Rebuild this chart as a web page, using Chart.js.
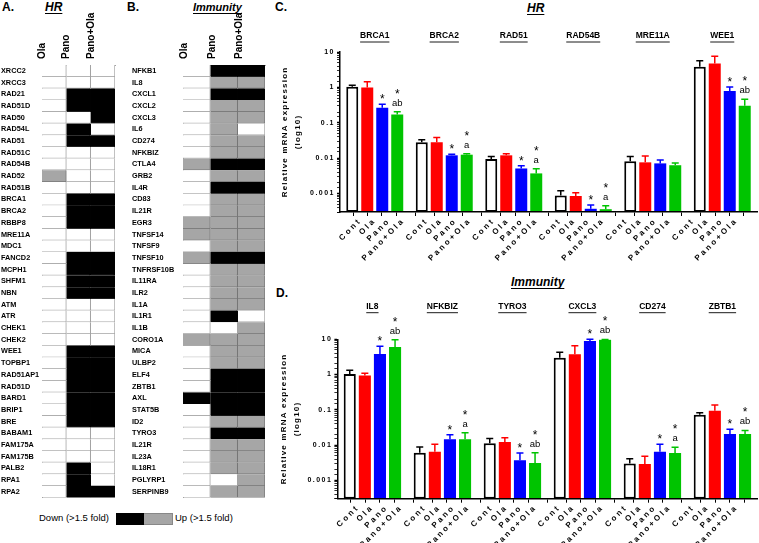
<!DOCTYPE html>
<html><head><meta charset="utf-8">
<script src="https://cdn.jsdelivr.net/npm/chart.js@4.4.1/dist/chart.umd.min.js"></script>
<style>
html,body{margin:0;padding:0;background:#fff;}
body{width:759px;height:543px;position:relative;overflow:hidden;font-family:"Liberation Sans",Arial,sans-serif;color:#000;}
canvas{position:absolute;}
.t{position:absolute;white-space:nowrap;line-height:12px;}
.p{font-weight:bold;font-size:12px;}
.h{font-weight:bold;font-style:italic;font-size:12px;text-decoration:underline;text-underline-offset:2px;}
.lg{font-size:9.5px;line-height:11px;}
.box{position:absolute;height:10px;}
</style></head><body>
<div class="t p" style="left:2px;top:1px">A.</div>
<div class="t h" style="left:45px;top:1px">HR</div>
<div class="t p" style="left:127px;top:1px">B.</div>
<div class="t h" style="left:193px;top:1px;font-size:11px">Immunity</div>
<div class="t p" style="left:275px;top:1px">C.</div>
<div class="t h" style="left:527px;top:2px">HR</div>
<div class="t p" style="left:276px;top:287px">D.</div>
<div class="t h" style="left:511px;top:276px">Immunity</div>
<div class="t lg" style="left:39px;top:512px">Down (&gt;1.5 fold)</div>
<div class="box" style="left:116px;top:513px;width:27px;background:#000;border:1px solid #000;border-right:none"></div>
<div class="box" style="left:144px;top:513px;width:28px;background:#a6a6a6;border:1px solid #888;border-left:none"></div>
<div class="t lg" style="left:175px;top:512px">Up (&gt;1.5 fold)</div>

<canvas id="ha" width="118" height="502" style="left:0;top:0"></canvas>
<canvas id="hb" width="138" height="502" style="left:130px;top:0"></canvas>
<canvas id="cc" width="519" height="250" style="left:240px;top:20px"></canvas>
<canvas id="cd" width="519" height="263" style="left:240px;top:280px"></canvas>
<script>
// ---------- heat map data (0 = no change, 1 = down, 2 = up) ----------
const heatCols = ['Ola', 'Pano', 'Pano+Ola'];
const hrGenes = ['XRCC2','XRCC3','RAD21','RAD51D','RAD50','RAD54L','RAD51','RAD51C','RAD54B','RAD52','RAD51B','BRCA1','BRCA2','RBBP8','MRE11A','MDC1','FANCD2','MCPH1','SHFM1','NBN','ATM','ATR','CHEK1','CHEK2','WEE1','TOPBP1','RAD51AP1','RAD51D','BARD1','BRIP1','BRE','BABAM1','FAM175A','FAM175B','PALB2','RPA1','RPA2'];
const hrOlaHeat     = [0,0,0,0,0,0,0,0,0,2,0,0,0,0,0,0,0,0,0,0,0,0,0,0,0,0,0,0,0,0,0,0,0,0,0,0,0];
const hrPanoHeat    = [0,0,1,1,0,1,1,0,0,0,0,1,1,1,0,0,1,1,1,1,0,0,0,0,1,1,1,1,1,1,1,0,0,0,1,1,1];
const hrPanoOlaHeat = [0,0,1,1,1,0,1,0,0,0,0,1,1,1,0,0,1,1,1,1,0,0,0,0,1,1,1,1,1,1,1,0,0,0,0,0,1];

const imGenes = ['NFKB1','IL8','CXCL1','CXCL2','CXCL3','IL6','CD274','NFKBIZ','CTLA4','GRB2','IL4R','CD83','IL21R','EGR3','TNFSF14','TNFSF9','TNFSF10','TNFRSF10B','IL11RA','ILR2','IL1A','IL1R1','IL1B','CORO1A','MICA','ULBP2','ELF4','ZBTB1','AXL','STAT5B','ID2','TYRO3','IL21R','IL23A','IL18R1','PGLYRP1','SERPINB9'];
const imOlaHeat     = [0,0,0,0,0,0,0,0,2,0,0,0,0,2,2,0,2,0,0,0,0,0,0,2,0,0,0,0,1,0,0,0,0,0,0,0,0];
const imPanoHeat    = [1,2,1,2,2,2,2,2,1,2,1,2,2,2,2,2,1,2,2,2,2,1,0,2,2,2,1,1,1,1,2,1,2,2,2,0,2];
const imPanoOlaHeat = [1,2,1,2,2,0,2,2,1,2,1,2,2,2,2,2,1,2,2,2,2,0,2,2,2,2,1,1,1,1,2,1,2,2,2,2,2];

// ---------- qPCR bar data (relative expression, mean and mean+SD) ----------
const treatments = ['Cont', 'Ola', 'Pano', 'Pano+Ola'];
const hrBarGenes = ['BRCA1','BRCA2','RAD51','RAD54B','MRE11A','WEE1'];
const hrCont       = [1.04, 0.028, 0.0095, 0.00088, 0.0081, 3.8];
const hrContErr    = [1.14, 0.033, 0.0112, 0.0012, 0.0112, 5.7];
const hrOla        = [1.0, 0.028, 0.012, 0.00085, 0.0076, 4.7];
const hrOlaErr     = [1.44, 0.038, 0.0133, 0.00105, 0.0115, 7.6];
const hrPano       = [0.267, 0.012, 0.0051, 0.00037, 0.0071, 0.79];
const hrPanoErr    = [0.333, 0.0128, 0.0061, 0.00047, 0.0089, 1.02];
const hrPanoOla    = [0.17, 0.0125, 0.0037, 0.00036, 0.0063, 0.30];
const hrPanoOlaErr = [0.206, 0.0133, 0.0050, 0.00045, 0.0073, 0.46];
const hrStarPano    = ['*','*','*','*','','*'];
const hrStarPanoOla = ['*','*','*','*','','*'];
const hrLetterPanoOla = ['ab','a','a','a','','ab'];

const imBarGenes = ['IL8','NFKBIZ','TYRO3','CXCL3','CD274','ZBTB1'];
const imCont       = [1.04, 0.006, 0.0112, 3.0, 0.003, 0.072];
const imContErr    = [1.32, 0.0088, 0.0152, 4.26, 0.0041, 0.082];
const imOla        = [0.94, 0.0064, 0.0122, 3.74, 0.0029, 0.094];
const imOlaErr     = [1.09, 0.0105, 0.0162, 6.6, 0.0048, 0.136];
const imPano       = [3.82, 0.0146, 0.0037, 8.9, 0.0064, 0.0206];
const imPanoErr    = [6.3, 0.0197, 0.0059, 10, 0.0105, 0.028];
const imPanoOla    = [6.0, 0.0146, 0.0031, 9.7, 0.0059, 0.0206];
const imPanoOlaErr = [9.7, 0.0224, 0.006, 9.9, 0.0087, 0.026];
const imStarPano    = ['*','*','*','*','*','*'];
const imStarPanoOla = ['*','*','*','*','*','*'];
const imLetterPanoOla = ['ab','a','ab','ab','a','ab'];

// ---------- styling ----------
Chart.defaults.font.family = '"Liberation Sans", Arial, sans-serif';
Chart.defaults.color = '#000';
const cellFill = ['#ffffff', '#000000', '#a6a6a6'];
const cellEdge = ['#a3a3a3', '#000000', '#767676'];
const barFill = ['#ffffff', '#ff0000', '#0000ff', '#00c400'];
const barEdge = ['#000000', '#ff0000', '#0000ff', '#00c400'];
const CAT_PCT = 0.863, BAR_PCT = 0.8;

function makeHeat(id, genes, cols, geo) {
  return new Chart(document.getElementById(id), {
    type: 'bar',
    data: {
      labels: genes,
      datasets: cols.map((codes, c) => ({
        data: codes.map(() => [c, c + 1]),
        backgroundColor: codes.map(k => cellFill[k]),
        borderColor: codes.map(k => cellEdge[k]),
        borderWidth: {top: 0, left: 0, right: 1, bottom: 1},
        borderSkipped: false, grouped: false,
        barPercentage: 1, categoryPercentage: 1
      }))
    },
    options: {
      indexAxis: 'y', responsive: false, animation: false, devicePixelRatio: 1,
      layout: {padding: {left: geo.padL, right: geo.padR, top: 0, bottom: geo.padB}},
      plugins: {legend: {display: false}, tooltip: {enabled: false}},
      scales: {
        x: {type: 'linear', min: 0, max: 3, display: false},
        xt: {type: 'category', labels: heatCols, position: 'top', offset: true,
             afterFit: s => { s.height = geo.topH; },
             grid: {display: false}, border: {display: true, color: '#a3a3a3', width: 1},
             ticks: {minRotation: 90, maxRotation: 90, padding: -2, autoSkip: false,
                     font: {size: 10, weight: 'bold'}, color: '#000'}},
        y: {type: 'category', afterFit: s => { s.width = geo.yW; },
            grid: {display: false}, border: {display: true, color: '#a3a3a3', width: 1},
            ticks: {crossAlign: 'far', autoSkip: false, padding: 0,
                    font: {size: 7.3, weight: 'bold'}, color: '#000'}}
      }
    }
  });
}

function decor(cfg) {
  return {
    id: 'decor',
    beforeDraw(chart) {
      const ctx = chart.ctx;
      Object.keys(cfg.spacing).forEach(id => {
        const sc = chart.scales[id], sp = cfg.spacing[id];
        if (!sc || sc.__ls) return;
        sc.__ls = true;
        const dl = sc.drawLabels, dt = sc.drawTitle;
        sc.drawLabels = function (a) { ctx.save(); ctx.letterSpacing = sp.labels || '0px'; dl.call(this, a); ctx.restore(); };
        sc.drawTitle = function () { ctx.save(); ctx.letterSpacing = sp.title || '0px'; dt.call(this); ctx.restore(); };
      });
    },
    afterDatasetsDraw(chart) {
      const ctx = chart.ctx, ys = chart.scales.y, xs = chart.scales.x;
      ctx.save();
      ctx.letterSpacing = '0px';
      cfg.err.forEach((errs, di) => {
        const ds = chart.data.datasets[di];
        chart.getDatasetMeta(di).data.forEach((bar, i) => {
          const y0 = ys.getPixelForValue(ds.data[i]);
          const y1 = ys.getPixelForValue(errs[i]);
          ctx.strokeStyle = ds.borderColor; ctx.lineWidth = 1.5;
          ctx.beginPath();
          ctx.moveTo(bar.x, y0); ctx.lineTo(bar.x, y1);
          ctx.moveTo(bar.x - 3.5, y1); ctx.lineTo(bar.x + 3.5, y1);
          ctx.stroke();
          const st = cfg.star[di] ? cfg.star[di][i] : '';
          const le = cfg.letter[di] ? cfg.letter[di][i] : '';
          ctx.fillStyle = '#000'; ctx.textAlign = 'center'; ctx.textBaseline = 'alphabetic';
          if (le) { ctx.font = '9.5px "Liberation Sans"'; ctx.fillText(le, bar.x, y1 - 6); }
          if (st) { ctx.font = '12px "Liberation Sans"'; ctx.fillText(st, bar.x, le ? y1 - 14 : y1 - 1); }
        });
      });
      ctx.font = 'bold 8.5px "Liberation Sans"';
      ctx.textAlign = 'center'; ctx.textBaseline = 'middle'; ctx.fillStyle = '#000';
      chart.data.labels.forEach((g, i) => {
        const x = xs.getPixelForValue(i);
        ctx.fillText(g, x, cfg.titleY);
        const w = ctx.measureText(g).width;
        ctx.lineWidth = 0.9; ctx.strokeStyle = '#000';
        ctx.beginPath(); ctx.moveTo(x - w / 2, cfg.titleY + 6); ctx.lineTo(x + w / 2, cfg.titleY + 6); ctx.stroke();
      });
      ctx.restore();
    }
  };
}

function makeBars(id, genes, series, errs, stars, letters, geo) {
  const slot = CAT_PCT / treatments.length;
  const tickPos = [];
  genes.forEach((g, i) => treatments.forEach((t, k) => tickPos.push(i + (k - 1.5) * slot)));
  return new Chart(document.getElementById(id), {
    type: 'bar',
    data: {
      labels: genes,
      datasets: series.map((d, k) => ({
        label: treatments[k], data: d,
        backgroundColor: barFill[k], borderColor: barEdge[k],
        borderWidth: k === 0 ? 2 : 0, borderSkipped: false,
        categoryPercentage: CAT_PCT, barPercentage: BAR_PCT
      }))
    },
    options: {
      responsive: false, animation: false, devicePixelRatio: 1,
      layout: {padding: {top: geo.padTop, right: geo.padRight, left: 0, bottom: 0}},
      plugins: {legend: {display: false}, tooltip: {enabled: false}},
      scales: {
        x: {type: 'category', display: false, offset: true},
        xb: {type: 'linear', position: 'bottom', min: -0.5, max: genes.length - 0.5,
             afterBuildTicks: s => { s.ticks = tickPos.map(v => ({value: v})); },
             afterFit: s => { s.height = geo.bottomH; },
             ticks: {autoSkip: false, minRotation: 45, maxRotation: 45, padding: 0,
                     font: {size: 8, weight: 'bold'}, color: '#000',
                     callback: (v, i) => treatments[i % treatments.length]},
             grid: {drawOnChartArea: false, tickLength: 4, color: '#000', tickWidth: 1},
             border: {color: '#000', width: 1.5, z: 1}},
        y: {type: 'logarithmic', min: 0.0003, max: 10,
            afterFit: s => { s.width = geo.yW; },
            ticks: {autoSkip: false, padding: 2, font: {size: 7, weight: 'bold'}, color: '#000',
                    major: {enabled: true},
                    callback: v => {
                      const l = Math.log10(v);
                      if (Math.abs(l - Math.round(l)) > 1e-6) return '';
                      return v >= 1 ? String(Math.round(v)) : String(+v.toPrecision(1));
                    }},
            grid: {drawOnChartArea: false, tickLength: 3, color: '#000',
                   tickWidth: c => (c.tick && c.tick.major) ? 1.5 : 0.8},
            border: {color: '#000', width: 1.5, z: 1},
            title: {display: true, text: ['Relative mRNA expression', '(log10)'], color: '#000',
                    font: {size: 8, weight: 'bold', lineHeight: '13px'},
                    padding: {top: geo.titlePad, bottom: 0}}}
      }
    },
    plugins: [decor({
      spacing: {y: {labels: '1.5px', title: '1.2px'}, xb: {labels: '2.5px'}},
      err: errs, star: stars, letter: letters, titleY: geo.titleY
    })]
  });
}

makeHeat('ha', hrGenes, [hrOlaHeat, hrPanoHeat, hrPanoOlaHeat], {padL: 1, padR: 3, padB: 3, yW: 41, topH: 65});
makeHeat('hb', imGenes, [imOlaHeat, imPanoHeat, imPanoOlaHeat], {padL: 2, padR: 3, padB: 3, yW: 51, topH: 65});

makeBars('cc', hrBarGenes,
  [hrCont, hrOla, hrPano, hrPanoOla],
  [hrContErr, hrOlaErr, hrPanoErr, hrPanoOlaErr],
  [null, null, hrStarPano, hrStarPanoOla],
  [null, null, null, hrLetterPanoOla],
  {padTop: 32, padRight: 2, yW: 100, bottomH: 58, titlePad: 38.5, titleY: 16});

makeBars('cd', imBarGenes,
  [imCont, imOla, imPano, imPanoOla],
  [imContErr, imOlaErr, imPanoErr, imPanoOlaErr],
  [null, null, imStarPano, imStarPanoOla],
  [null, null, null, imLetterPanoOla],
  {padTop: 59.3, padRight: 1.6, yW: 97.4, bottomH: 44.3, titlePad: 36.8, titleY: 26.7});
</script>
</body></html>
